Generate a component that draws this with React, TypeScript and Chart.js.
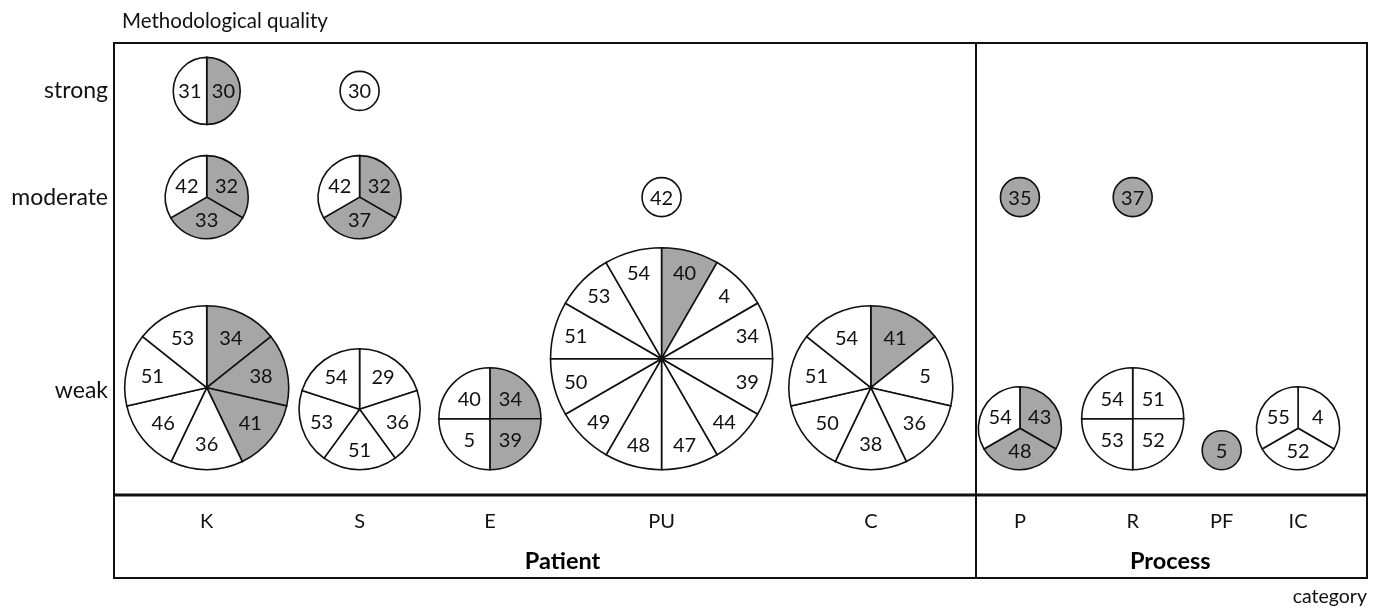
import React, { useEffect, useRef } from 'react';
import { Chart, registerables } from 'chart.js';

Chart.register(...registerables);

// ---------- data ----------
const categories = ['K', 'S', 'E', 'PU', 'C', 'P', 'R', 'PF', 'IC'];
const groups = ['Patient', 'Process'];
const qualityLevels = ['weak', 'moderate', 'strong'];

// one entry per pie (study set)
const pieCategory = ['K', 'S', 'K', 'S', 'PU', 'P', 'R', 'K', 'S', 'E', 'PU', 'C', 'P', 'R', 'PF', 'IC'];
const pieLevel = [
  'strong', 'strong',
  'moderate', 'moderate', 'moderate', 'moderate', 'moderate',
  'weak', 'weak', 'weak', 'weak', 'weak', 'weak', 'weak', 'weak', 'weak',
];
// reference numbers drawn in grey slices
const pieShaded: number[][] = [
  [30], [],
  [32, 33], [32, 37], [], [35], [37],
  [34, 38, 41], [], [34, 39], [40], [41], [43, 48], [], [5], [],
];
// reference numbers drawn in white slices
const piePlain: number[][] = [
  [31], [30],
  [42], [42], [42], [], [],
  [36, 46, 51, 53], [29, 36, 51, 53, 54], [5, 40],
  [4, 34, 39, 44, 47, 48, 49, 50, 51, 53, 54],
  [5, 36, 38, 50, 51, 54], [54], [51, 52, 53, 54], [], [4, 52, 55],
];

// ---------- axis layout (scale units) ----------
const categoryAxisPos = [7.4, 19.6, 30.0, 43.7, 60.4, 72.3, 81.3, 88.4, 94.5];
const groupAxisPos = [35.8, 84.3];
const groupDividerPos = 68.8;
const levelAxisPos = [23.2, 65.9, 89.4];
const weakRowBaseline = 5.6;

// ---------- styles ----------
const FONT = 'Lato, "Noto Sans", sans-serif';
const TEXT = '#111111';
const GREY = '#a6a6a6';
const radiusBySlices: Record<number, number> = { 1: 19.5, 2: 33.5, 3: 41.5, 4: 51, 5: 60.5, 7: 82, 12: 111 };
const labelFracBySlices: Record<number, number> = { 1: 0, 2: 0.5, 3: 0.55, 4: 0.57, 5: 0.66, 7: 0.68, 12: 0.8 };

const piePlugin = {
  id: 'pies',
  afterDatasetsDraw(chart: any) {
    const { ctx } = chart;
    const meta = chart.getDatasetMeta(0);
    const yScale = chart.scales.y;
    ctx.save();
    meta.data.forEach((pt: any, i: number) => {
      const values = [...pieShaded[i], ...piePlain[i]];
      const n = values.length;
      const r = radiusBySlices[n] ?? 20 + 8 * n;
      const frac = labelFracBySlices[n] ?? 0.7;
      const cx = pt.x;
      const cy = pieLevel[i] === 'weak' ? yScale.getPixelForValue(weakRowBaseline) - r : pt.y;
      const step = (Math.PI * 2) / n;
      ctx.lineWidth = 1.6;
      ctx.strokeStyle = '#111';
      values.forEach((v, k) => {
        const a0 = -Math.PI / 2 + k * step;
        const a1 = a0 + step;
        ctx.beginPath();
        if (n === 1) {
          ctx.arc(cx, cy, r, 0, Math.PI * 2);
        } else {
          ctx.moveTo(cx, cy);
          ctx.arc(cx, cy, r, a0, a1);
          ctx.closePath();
        }
        ctx.fillStyle = k < pieShaded[i].length ? GREY : '#ffffff';
        ctx.fill();
        ctx.stroke();
      });
      ctx.fillStyle = TEXT;
      ctx.font = `20px ${FONT}`;
      ctx.textAlign = 'center';
      ctx.textBaseline = 'middle';
      values.forEach((v, k) => {
        const mid = -Math.PI / 2 + (k + 0.5) * step;
        const d = n === 1 ? 0 : frac * r;
        ctx.fillText(String(v), cx + d * Math.cos(mid), cy + d * Math.sin(mid) + 1);
      });
    });
    ctx.restore();
  },
};

const framePlugin = {
  id: 'frame',
  afterDraw(chart: any) {
    const { ctx, chartArea } = chart;
    const x = chart.scales.x;
    const boxBottom = chartArea.bottom + 83;
    ctx.save();
    ctx.strokeStyle = '#111';
    ctx.lineWidth = 2;
    ctx.strokeRect(chartArea.left, chartArea.top, chartArea.right - chartArea.left, boxBottom - chartArea.top);
    ctx.lineWidth = 3;
    ctx.beginPath();
    ctx.moveTo(chartArea.left, chartArea.bottom);
    ctx.lineTo(chartArea.right, chartArea.bottom);
    ctx.stroke();
    ctx.lineWidth = 2;
    const dx = Math.round(x.getPixelForValue(groupDividerPos));
    ctx.beginPath();
    ctx.moveTo(dx, chartArea.top);
    ctx.lineTo(dx, boxBottom);
    ctx.stroke();
    // y-axis title
    ctx.fillStyle = TEXT;
    ctx.font = `20.5px ${FONT}`;
    ctx.textAlign = 'left';
    ctx.textBaseline = 'middle';
    ctx.fillText('Methodological quality', chartArea.left + 8, 21);
    ctx.restore();
  },
};

export default function App() {
  const ref = useRef<HTMLCanvasElement | null>(null);
  useEffect(() => {
    document.body.style.margin = '0';
    const canvas = ref.current;
    if (!canvas) return;
    const points = pieCategory.map((c, i) => ({
      x: categoryAxisPos[categories.indexOf(c)],
      y: levelAxisPos[qualityLevels.indexOf(pieLevel[i])],
    }));
    const chart = new Chart(canvas, {
      type: 'scatter',
      data: { datasets: [{ data: points, pointRadius: 0, pointHoverRadius: 0 }] },
      options: {
        animation: false,
        responsive: false,
        events: [],
        layout: { padding: { top: 43, right: 12, left: 0, bottom: 0 } },
        plugins: { legend: { display: false }, tooltip: { enabled: false }, title: { display: false } },
        scales: {
          x: {
            type: 'linear',
            position: 'bottom',
            min: 0,
            max: 100,
            afterBuildTicks: (s: any) => {
              s.ticks = categoryAxisPos.map((v) => ({ value: v }));
            },
            afterFit: (s: any) => {
              s.height = 45;
            },
            ticks: {
              autoSkip: false,
              maxRotation: 0,
              padding: 15,
              color: TEXT,
              font: { family: FONT, size: 20 },
              callback: (_v: any, i: number) => categories[i],
            },
            grid: { display: false, drawTicks: false },
            border: { display: false },
          },
          xGroup: {
            type: 'linear',
            position: 'bottom',
            weight: 1,
            min: 0,
            max: 100,
            afterBuildTicks: (s: any) => {
              s.ticks = groupAxisPos.map((v) => ({ value: v }));
            },
            afterFit: (s: any) => {
              s.height = 68;
            },
            ticks: {
              autoSkip: false,
              maxRotation: 0,
              padding: 7,
              color: '#000',
              font: { family: FONT, size: 23.5, weight: 'bold' },
              callback: (_v: any, i: number) => groups[i],
            },
            title: {
              display: true,
              text: 'category',
              align: 'end',
              color: TEXT,
              font: { family: FONT, size: 19.5 },
              padding: { top: 0, bottom: 0 },
            },
            grid: { display: false, drawTicks: false },
            border: { display: false },
          },
          y: {
            type: 'linear',
            min: 0,
            max: 100,
            afterBuildTicks: (s: any) => {
              s.ticks = levelAxisPos.map((v) => ({ value: v }));
            },
            afterFit: (s: any) => {
              s.width = 114;
            },
            ticks: {
              autoSkip: false,
              padding: 6,
              color: TEXT,
              font: { family: FONT, size: 23 },
              callback: (_v: any, i: number) => qualityLevels[i],
            },
            grid: { display: false, drawTicks: false },
            border: { display: false },
          },
        },
      } as any,
      plugins: [piePlugin, framePlugin],
    });
    return () => chart.destroy();
  }, []);
  return (
    <div style={{ width: 1379, height: 608 }}>
      <canvas ref={ref} width={1379} height={608} style={{ display: 'block' }} />
    </div>
  );
}
